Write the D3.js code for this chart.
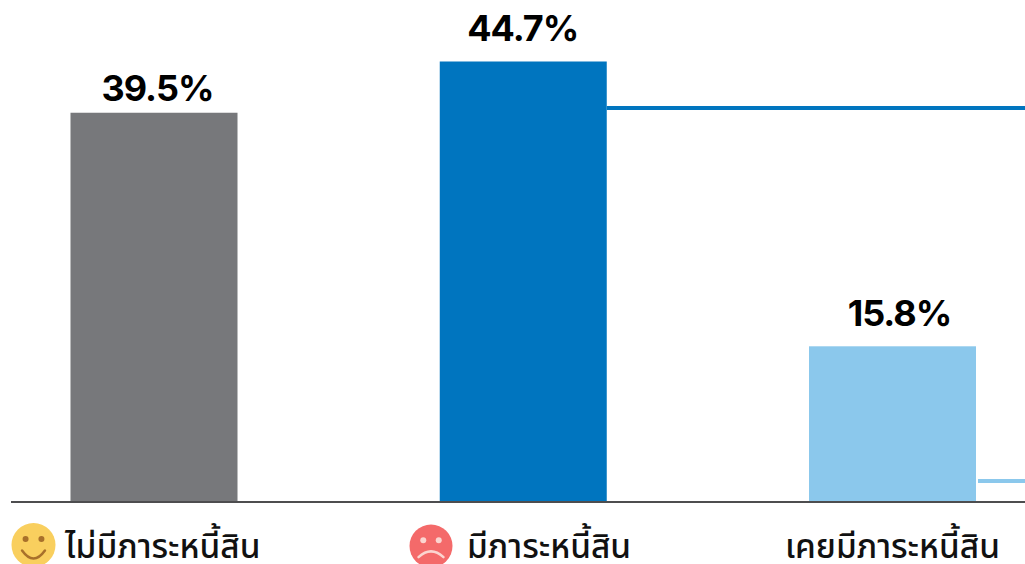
<!DOCTYPE html>
<html><head><meta charset="utf-8">
<style>html,body{margin:0;padding:0;background:#fff}svg{display:block}</style>
<script src="https://cdn.jsdelivr.net/npm/d3@7"></script></head>
<body><svg id="c" width="1025" height="564"></svg>
<script>
const categories = ["ไม่มีภาระหนี้สิน","มีภาระหนี้สิน","เคยมีภาระหนี้สิน"];
const values = [39.5,44.7,15.8];
const labels = ["39.5%","44.7%","15.8%"];
const colors = ["#77787b","#0075bf","#8bc8ec"];
const svg = d3.select("#c");
const baseY = 502;
const y = d3.scaleLinear().domain([0,44.7]).range([baseY,61.5]);
const x = d3.scalePoint().domain(categories).range([154,892.5]);
const barW = 167;
const font = "'Noto Sans','Noto Sans Thai','Noto Sans CJK SC',sans-serif";
svg.selectAll("rect.bar").data(categories).join("rect").attr("class","bar")
 .attr("x",d=>x(d)-barW/2).attr("width",barW)
 .attr("y",(d,i)=>y(values[i])).attr("height",(d,i)=>baseY-y(values[i]))
 .attr("fill",(d,i)=>colors[i]);
svg.append("line").attr("x1",11).attr("x2",1025).attr("y1",baseY).attr("y2",baseY).attr("stroke","#4d4d4f").attr("stroke-width",2);
const labelDx=[3.5,-0.5,7];
const labelGap=[11.5,20.5,20.5];
svg.selectAll("text.v").data(categories).join("text").attr("class","v")
 .attr("x",(d,i)=>x(d)+labelDx[i]).attr("y",(d,i)=>y(values[i])-labelGap[i]).attr("text-anchor","middle")
 .attr("font-family","Inter,"+font).attr("font-weight",700).attr("font-size",36).attr("letter-spacing",-1).attr("fill","#000")
 .text((d,i)=>labels[i]);
svg.append("line").attr("x1",x(categories[1])+barW/2).attr("x2",1025).attr("y1",108).attr("y2",108).attr("stroke",colors[1]).attr("stroke-width",4);
svg.append("line").attr("x1",978).attr("x2",1025).attr("y1",481).attr("y2",481).attr("stroke",colors[2]).attr("stroke-width",4);
const catX=[65,467,785];
svg.selectAll("text.c").data(categories).join("text").attr("class","c")
 .attr("x",(d,i)=>catX[i]).attr("y",557.5)
 .attr("font-family",font).attr("font-weight",500).attr("font-size",33.4).attr("fill","#111").text(d=>d);
function face(cx,cy,r,fill,smile,ink,eye){
 const g=svg.append("g").attr("transform",`translate(${cx},${cy})`);
 g.append("circle").attr("r",r).attr("fill",fill);
 g.append("circle").attr("cx",-r*.36).attr("cy",-r*.27).attr("r",3).attr("fill",eye);
 g.append("circle").attr("cx",r*.36).attr("cy",-r*.27).attr("r",3).attr("fill",eye);
 const p=d3.path();
 if(smile){p.moveTo(-r*.52,r*.25);p.quadraticCurveTo(0,r*.98,r*.52,r*.25);}
 else{p.moveTo(-r*.58,r*.52);p.quadraticCurveTo(0,-r*.02,r*.58,r*.52);}
 g.append("path").attr("d",p.toString()).attr("fill","none").attr("stroke",ink).attr("stroke-width",2.5).attr("stroke-linecap","round");
}
face(33.5,545,22,"#f9cf5e",true,"#a8702a","#a8702a");
face(431,546,21.5,"#f46a6a",false,"#fbd5d0","#fbd5d0");
</script></body></html>
